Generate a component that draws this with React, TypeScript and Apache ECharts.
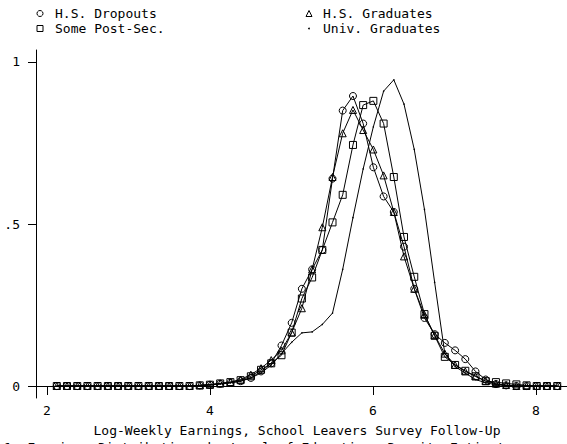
import { useEffect, useRef } from "react";
import * as echarts from "echarts";

const FONT = "'DejaVu Sans Mono', 'Liberation Mono', monospace";

// Evaluation grid of log-weekly earnings
const logWage = [
  2.12, 2.245, 2.371, 2.496, 2.621, 2.747, 2.872, 2.997, 3.122, 3.248,
  3.373, 3.498, 3.624, 3.749, 3.874, 3.999, 4.125, 4.25, 4.375, 4.501,
  4.626, 4.751, 4.877, 5.002, 5.127, 5.253, 5.378, 5.503, 5.628, 5.754,
  5.879, 6.004, 6.13, 6.255, 6.38, 6.506, 6.631, 6.756, 6.881, 7.007,
  7.132, 7.257, 7.383, 7.508, 7.633, 7.759, 7.884, 8.009, 8.134, 8.26,
];

// Density estimates by schooling group
const hsDropouts = [
  0, 0, 0, 0, 0, 0, 0, 0, 0, 0,
  0, 0, 0, 0, 0.002, 0.004, 0.007, 0.01, 0.015, 0.025,
  0.045, 0.07, 0.125, 0.195, 0.3, 0.36, 0.42, 0.64, 0.85, 0.895,
  0.81, 0.675, 0.585, 0.537, 0.43, 0.3, 0.21, 0.16, 0.133, 0.11,
  0.083, 0.045, 0.02, 0.006, 0.002, 0, 0, 0, 0, 0,
];
const somePostSec = [
  0, 0, 0, 0, 0, 0, 0, 0, 0, 0,
  0, 0, 0, 0, 0.002, 0.004, 0.008, 0.012, 0.018, 0.03,
  0.05, 0.07, 0.095, 0.165, 0.27, 0.335, 0.42, 0.505, 0.59, 0.744,
  0.867, 0.88, 0.81, 0.645, 0.46, 0.337, 0.222, 0.155, 0.09, 0.065,
  0.047, 0.03, 0.015, 0.012, 0.008, 0.005, 0.002, 0, 0, 0,
];
const hsGraduates = [
  0, 0, 0, 0, 0, 0, 0, 0, 0, 0,
  0, 0, 0, 0, 0.002, 0.004, 0.008, 0.012, 0.02, 0.035,
  0.055, 0.08, 0.11, 0.165, 0.24, 0.36, 0.49, 0.645, 0.78, 0.852,
  0.79, 0.73, 0.65, 0.537, 0.4, 0.3, 0.22, 0.157, 0.1, 0.065,
  0.045, 0.03, 0.015, 0.007, 0.003, 0, 0, 0, 0, 0,
];
const univGraduates = [
  0, 0, 0, 0, 0, 0, 0, 0, 0, 0,
  0, 0, 0, 0, 0.001, 0.003, 0.006, 0.01, 0.015, 0.025,
  0.04, 0.065, 0.1, 0.135, 0.164, 0.167, 0.19, 0.225, 0.36, 0.52,
  0.67, 0.8, 0.91, 0.945, 0.87, 0.73, 0.545, 0.32, 0.1, 0.06,
  0.04, 0.02, 0.01, 0.004, 0.001, 0, 0, 0, 0, 0,
];

const xTicks = [2, 4, 6, 8];
const yTicks = [0, 0.5, 1];

const xTitle = "Log-Weekly Earnings, School Leavers Survey Follow-Up";
const caption = "1. Earnings Distributions by Level of Education, Density Estimates";

export default function App() {
  const ref = useRef<HTMLDivElement>(null);

  useEffect(() => {
    const chart = echarts.init(ref.current!, null, { renderer: "svg" });
    const pairs = (ys: number[]) => logWage.map((x, i) => [x, ys[i]]);
    const text = { color: "#000", fontFamily: FONT, fontSize: 13 };
    const lineStyle = { color: "#000", width: 1 };
    // thin hollow markers: transparent fill with a 1px outline
    const hollow = { color: "rgba(0,0,0,0)", borderColor: "#000", borderWidth: 1 };
    const markStroke = { fill: "none", stroke: "#000", lineWidth: 1 };
    // legend keeps the series names; its own icons are hidden and drawn as graphics
    const legendBase = {
      padding: 0,
      itemGap: 0,
      itemWidth: 14,
      itemHeight: 6,
      icon: "rect",
      selectedMode: false,
      itemStyle: { color: "rgba(0,0,0,0)", borderWidth: 0 },
      textStyle: { ...text, lineHeight: 15 },
    };

    chart.setOption({
      animation: false,
      backgroundColor: "#fff",
      grid: { left: 36, right: 0, top: 50, bottom: 46 },
      xAxis: {
        type: "value",
        min: 1.865,
        max: 8.38,
        splitLine: { show: false },
        axisLine: { lineStyle: { color: "#000", width: 1 } },
        axisTick: { length: 9, customValues: xTicks, lineStyle: { color: "#000" } },
        axisLabel: { customValues: xTicks, margin: 6, ...text },
      },
      yAxis: {
        type: "value",
        min: -0.037,
        max: 1.037,
        splitLine: { show: false },
        axisLine: { show: true, lineStyle: { color: "#000", width: 1 } },
        axisTick: { show: true, length: 8, customValues: yTicks, lineStyle: { color: "#000" } },
        axisLabel: {
          customValues: yTicks,
          margin: 16,
          formatter: (v: number) => (v === 0.5 ? ".5" : String(v)),
          ...text,
        },
      },
      legend: [
        {
          ...legendBase,
          left: 36,
          top: 6,
          orient: "vertical",
          data: ["H.S. Dropouts", "Some Post-Sec."],
        },
        {
          ...legendBase,
          left: 304,
          top: 6,
          orient: "vertical",
          data: ["H.S. Graduates", "Univ. Graduates"],
        },
      ],
      graphic: [
        { type: "circle", shape: { cx: 40, cy: 13.5, r: 3 }, style: markStroke },
        { type: "rect", shape: { x: 37, y: 25.5, width: 6, height: 6 }, style: markStroke },
        {
          type: "polygon",
          shape: { points: [[306, 16.5], [312, 16.5], [309, 10.5]] },
          style: markStroke,
        },
        { type: "circle", shape: { cx: 309, cy: 28.5, r: 0.9 }, style: { fill: "#000" } },
        {
          type: "text",
          x: 297,
          y: 430,
          style: { text: xTitle, fill: "#000", font: `13px ${FONT}`, textAlign: "center", textVerticalAlign: "middle" },
        },
        {
          type: "text",
          x: 4,
          y: 447,
          style: { text: caption, fill: "#000", font: `13px ${FONT}`, textAlign: "left", textVerticalAlign: "middle" },
        },
      ],
      series: [
        {
          name: "H.S. Dropouts",
          type: "line",
          data: pairs(hsDropouts),
          symbol: "circle",
          symbolSize: 7,
          lineStyle,
          itemStyle: hollow,
        },
        {
          name: "Some Post-Sec.",
          type: "line",
          data: pairs(somePostSec),
          symbol: "rect",
          symbolSize: 7,
          lineStyle,
          itemStyle: hollow,
        },
        {
          name: "H.S. Graduates",
          type: "line",
          data: pairs(hsGraduates),
          symbol: "triangle",
          symbolSize: 7,
          lineStyle,
          itemStyle: hollow,
        },
        {
          name: "Univ. Graduates",
          type: "line",
          data: pairs(univGraduates),
          symbol: "circle",
          symbolSize: 1.5,
          lineStyle,
          itemStyle: { color: "#000" },
        },
      ],
    });

    return () => chart.dispose();
  }, []);

  return <div ref={ref} style={{ position: "fixed", left: 0, top: 0, width: 567, height: 444 }} />;
}
